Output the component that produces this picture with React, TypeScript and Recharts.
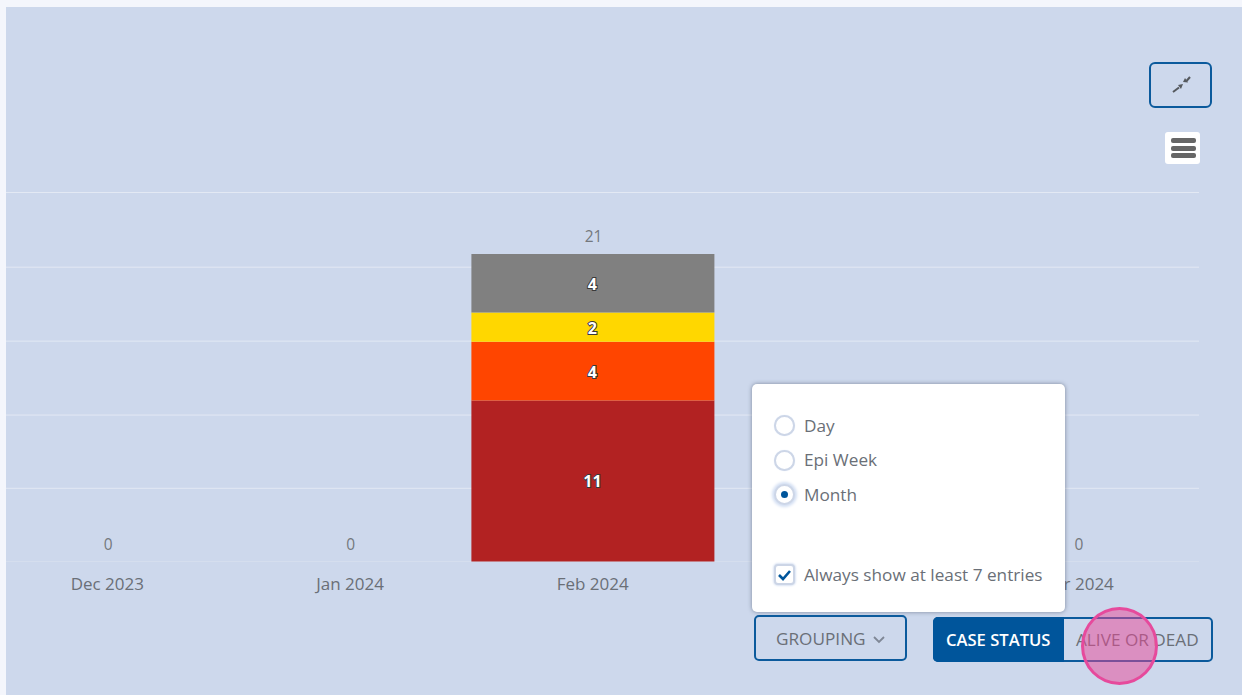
import React from "react";
import { ComposedChart, Bar, Line, XAxis, YAxis, CartesianGrid, LabelList } from "recharts";

const categories = ["Dec 2023", "Jan 2024", "Feb 2024", "Mar 2024", "Apr 2024"];
const deepRed = [0, 0, 11, 0, 0];
const orange = [0, 0, 4, 0, 0];
const gold = [0, 0, 2, 0, 0];
const grey = [0, 0, 4, 0, 0];
const totals = [0, 0, 21, 0, 0];
const gridLevels = [0, 5, 10, 15.05, 20.1, 25.2];
const groupingOptions = ["Day", "Epi Week", "Month"];

const data = categories.map((name, i) => ({
  name,
  deepRed: deepRed[i],
  orange: orange[i],
  gold: gold[i],
  grey: grey[i],
  total: totals[i],
}));

const FONT = '"Open Sans", "Noto Sans", sans-serif';
const BLUE = "#0b5a9c";
const TEXT = "#6a6f77";

const SegmentLabel = (p: any) => {
  if (!p.value) return null;
  return (
    <text
      x={p.x + p.width / 2 - 0.5}
      y={p.y + p.height / 2 + 6.5}
      textAnchor="middle"
      fontFamily={FONT}
      fontSize={16}
      fontWeight={700}
      fill="#fff"
      stroke="#3a3a3a"
      strokeWidth={2}
      style={{ paintOrder: "stroke" }}
    >
      {p.value}
    </text>
  );
};

const TotalLabel = (p: any) => (
  <text x={p.x + 0.75} y={p.y - 12} textAnchor="middle" fontFamily={FONT} fontSize={15.5} fill="#74787d">
    {p.value}
  </text>
);

const GridLine = (p: any) => (
  <line
    x1={p.x1}
    x2={p.x2}
    y1={p.y1}
    y2={p.y2}
    stroke={p.y1 > 550 ? "#d5deee" : "#e3e9f4"}
    strokeWidth={1}
  />
);

const box = (s: React.CSSProperties): React.CSSProperties => ({ position: "absolute", boxSizing: "border-box", ...s });
const label = (s: React.CSSProperties): React.CSSProperties => ({
  position: "absolute",
  fontFamily: FONT,
  fontSize: 17.2,
  lineHeight: "20px",
  color: TEXT,
  whiteSpace: "nowrap",
  ...s,
});

export default function App() {
  return (
    <div style={{ position: "absolute", left: 0, top: 0, width: 1242, height: 695, overflow: "hidden", background: "#f4f6fc" }}>
      <div style={box({ left: 6, top: 7, width: 1236, height: 688, background: "#cdd8ec", overflow: "hidden" })}>
        <div style={{ position: "absolute", left: -20.5, top: -7 }}>
          <ComposedChart
            width={1213.5}
            height={620}
            data={data}
            barCategoryGap={0}
            margin={{ top: 192.5, right: 0, bottom: 0, left: 0 }}
          >
            <CartesianGrid horizontal={GridLine} vertical={false} />
            <XAxis
              dataKey="name"
              axisLine={false}
              tickLine={false}
              height={58.5}
              interval={0}
              tickMargin={10}
              tick={{ fontFamily: FONT, fontSize: 17, fill: TEXT }}
            />
            <YAxis hide width={0} domain={[0, 25.2]} ticks={gridLevels} />
            <Bar dataKey="deepRed" stackId="a" fill="#b22222" isAnimationActive={false}>
              <LabelList dataKey="deepRed" content={SegmentLabel} />
            </Bar>
            <Bar dataKey="orange" stackId="a" fill="#ff4500" isAnimationActive={false}>
              <LabelList dataKey="orange" content={SegmentLabel} />
            </Bar>
            <Bar dataKey="gold" stackId="a" fill="#ffd700" isAnimationActive={false}>
              <LabelList dataKey="gold" content={SegmentLabel} />
            </Bar>
            <Bar dataKey="grey" stackId="a" fill="#808080" isAnimationActive={false}>
              <LabelList dataKey="grey" content={SegmentLabel} />
            </Bar>
            <Line dataKey="total" stroke="none" dot={false} activeDot={false} legendType="none" isAnimationActive={false}>
              <LabelList dataKey="total" content={TotalLabel} />
            </Line>
          </ComposedChart>
        </div>
      </div>

      {/* expand button */}
      <div style={box({ left: 1149, top: 62, width: 63, height: 46, border: `2px solid ${BLUE}`, borderRadius: 6 })} />
      <svg style={{ position: "absolute", left: 1170, top: 72 }} width={28} height={24}>
        <line x1={3} y1={20} x2={9} y2={15.5} stroke="#55595e" strokeWidth={2} />
        <path d="M8 13 L13 12 L11 17 Z" fill="#55595e" />
        <line x1={16.5} y1={9} x2={20} y2={5} stroke="#55595e" strokeWidth={2} />
        <path d="M13 10 L18 10.5 L15 6 Z" fill="#55595e" />
      </svg>

      {/* hamburger */}
      <div style={box({ left: 1165, top: 132, width: 35, height: 32, background: "#fff", borderRadius: 3 })} />
      {[138, 146, 153].map((t) => (
        <div key={t} style={box({ left: 1171, top: t, width: 25, height: 4.5, background: "#666", borderRadius: 2 })} />
      ))}

      {/* popup */}
      <div
        style={box({
          left: 752,
          top: 384,
          width: 313,
          height: 228,
          background: "#fff",
          borderRadius: 5,
          boxShadow: "0 0 4px rgba(80,90,110,0.65)",
        })}
      />
      {groupingOptions.map((opt, i) => {
        const cy = 425.5 + i * 34.5;
        const on = opt === "Month";
        return (
          <React.Fragment key={opt}>
            <div
              style={box({
                left: 774,
                top: cy - 10.5,
                width: 21,
                height: 21,
                borderRadius: "50%",
                background: "#fff",
                border: "2px solid #cdd6e7",
                boxShadow: on ? "0 0 3px 2px #d3dff3" : "0 0 1px #d3dff3",
              })}
            />
            {on && <div style={box({ left: 781, top: cy - 3.5, width: 7, height: 7, borderRadius: "50%", background: "#00559b" })} />}
            <div style={label({ left: 804, top: cy - 10 })}>{opt}</div>
          </React.Fragment>
        );
      })}
      <div style={box({ left: 774, top: 564, width: 21, height: 21, borderRadius: 4, background: "#fff", border: "2px solid #ccd5e6", boxShadow: "0 0 2px 1px #dbe4f4" })} />
      <svg style={{ position: "absolute", left: 774, top: 564 }} width={21} height={21}>
        <path d="M5 11 L9 15 L16 7" stroke="#00559b" strokeWidth={2.6} fill="none" />
      </svg>
      <div style={label({ left: 804, top: 565 })}>Always show at least 7 entries</div>

      {/* grouping button */}
      <div style={box({ left: 754, top: 615, width: 153, height: 46, border: `2px solid ${BLUE}`, borderRadius: 5 })} />
      <div style={label({ left: 776, top: 629 })}>GROUPING</div>
      <svg style={{ position: "absolute", left: 872, top: 634 }} width={14} height={12}>
        <path d="M2 3 L7 8 L12 3" stroke="#7f8796" strokeWidth={1.8} fill="none" />
      </svg>

      {/* toggle */}
      <div style={box({ left: 933, top: 617, width: 280, height: 45, border: `2px solid ${BLUE}`, borderRadius: 5 })} />
      <div style={box({ left: 933, top: 617, width: 131, height: 45, background: "#00559b", borderRadius: "5px 0 0 5px" })} />
      <div style={label({ left: 946, top: 630, color: "#fff", fontWeight: 600, fontSize: 16.6 })}>CASE STATUS</div>
      <div style={label({ left: 1076, top: 630 })}>ALIVE OR DEAD</div>

      {/* pointer highlight */}
      <div
        style={box({
          left: 1081,
          top: 607,
          width: 77,
          height: 78,
          borderRadius: "50%",
          background: "rgba(233,70,150,0.5)",
          border: "3px solid #e64a9c",
        })}
      />
    </div>
  );
}
